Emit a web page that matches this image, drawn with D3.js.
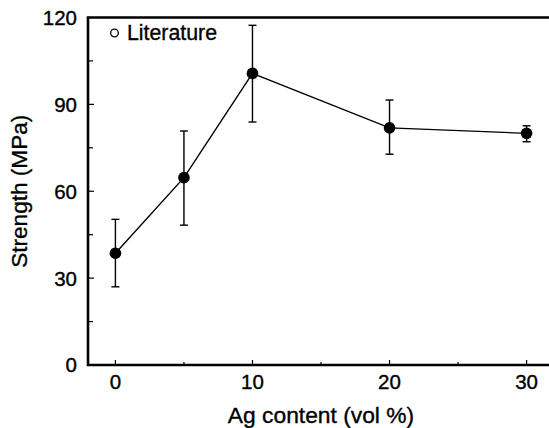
<!DOCTYPE html>
<html><head><meta charset="utf-8">
<script src="https://cdn.jsdelivr.net/npm/d3@7"></script>
<style>body{margin:0;background:#fff}text{font-family:"Liberation Sans",Arial,Helvetica,sans-serif;fill:#000;stroke:#000;stroke-width:0.35px}</style>
</head><body>
<svg id="c" width="549" height="428"></svg>
<script>
const agContent = [0, 5, 10, 20, 30];
const strength = [38.6, 64.7, 100.7, 81.9, 80.0];
const errUpper = [50.3, 80.8, 117.3, 91.5, 82.6];
const errLower = [27.0, 48.3, 83.9, 72.8, 77.1];
const xTicks = [0, 10, 20, 30];
const xMinorTicks = [5, 15, 25];
const yTicks = [0, 30, 60, 90, 120];
const yMinorTicks = [15, 45, 75, 105];
const legendLabel = "Literature";

const svg = d3.select("#c");
const x = d3.scaleLinear().domain([-2, 32]).range([88, 554]);
const y = d3.scaleLinear().domain([0, 120]).range([365, 17.5]);

// inward ticks
const g = svg.append("g");
g.selectAll(".ytm").data(yMinorTicks).enter().append("line")
  .attr("x1", x(-2)).attr("x2", x(-2) + 5).attr("y1", d => y(d)).attr("y2", d => y(d))
  .attr("stroke", "#000").attr("stroke-width", 1.2);
g.selectAll(".ytM").data(yTicks).enter().append("line")
  .attr("x1", x(-2)).attr("x2", x(-2) + 6).attr("y1", d => y(d)).attr("y2", d => y(d))
  .attr("stroke", "#000").attr("stroke-width", 1.2);
g.selectAll(".xtm").data(xMinorTicks).enter().append("line")
  .attr("x1", d => x(d)).attr("x2", d => x(d)).attr("y1", y(0)).attr("y2", y(0) - 3)
  .attr("stroke", "#000").attr("stroke-width", 1.2);
g.selectAll(".xtM").data(xTicks).enter().append("line")
  .attr("x1", d => x(d)).attr("x2", d => x(d)).attr("y1", y(0)).attr("y2", y(0) - 5)
  .attr("stroke", "#000").attr("stroke-width", 1.2);

// frame (left, bottom, top)
svg.append("path")
  .attr("d", `M${x(32)},${y(120)}H${x(-2)}V${y(0)}H${x(32)}`)
  .attr("fill", "none").attr("stroke", "#000").attr("stroke-width", 2.6);

// tick labels
svg.selectAll(".yl").data(yTicks).enter().append("text")
  .attr("x", 77).attr("y", d => y(d)).attr("dy", "0.36em")
  .attr("text-anchor", "end").attr("font-size", 20.5).text(d => d);
svg.selectAll(".xl").data(xTicks).enter().append("text")
  .attr("x", d => x(d)).attr("y", 388.5)
  .attr("text-anchor", "middle").attr("font-size", 20.5).text(d => d);

// axis titles
svg.append("text").attr("x", x(15)).attr("y", 423)
  .attr("text-anchor", "middle").attr("font-size", 22.8).text("Ag content (vol %)");
svg.append("text").attr("transform", `translate(26.5,${(y(0) + y(120)) / 2}) rotate(-90)`)
  .attr("text-anchor", "middle").attr("font-size", 22.6).text("Strength (MPa)");

// line
svg.append("path").datum(agContent.map((d, i) => [d, strength[i]]))
  .attr("d", d3.line().x(d => x(d[0])).y(d => y(d[1])))
  .attr("fill", "none").attr("stroke", "#000").attr("stroke-width", 1.4);

// error bars
const eb = svg.append("g").attr("stroke", "#000").attr("stroke-width", 1.4);
agContent.forEach((d, i) => {
  eb.append("line").attr("x1", x(d)).attr("x2", x(d)).attr("y1", y(errUpper[i])).attr("y2", y(errLower[i]));
  eb.append("line").attr("x1", x(d) - 4).attr("x2", x(d) + 4).attr("y1", y(errUpper[i])).attr("y2", y(errUpper[i]));
  eb.append("line").attr("x1", x(d) - 4).attr("x2", x(d) + 4).attr("y1", y(errLower[i])).attr("y2", y(errLower[i]));
});

// markers
svg.selectAll(".pt").data(agContent).enter().append("circle")
  .attr("cx", d => x(d)).attr("cy", (d, i) => y(strength[i])).attr("r", 5.8).attr("fill", "#000");

// legend
svg.append("circle").attr("cx", 114.5).attr("cy", 33).attr("r", 3.8)
  .attr("fill", "none").attr("stroke", "#000").attr("stroke-width", 1.3);
svg.append("text").attr("x", 127).attr("y", 40).attr("font-size", 21.3).text(legendLabel);
</script>
</body></html>
